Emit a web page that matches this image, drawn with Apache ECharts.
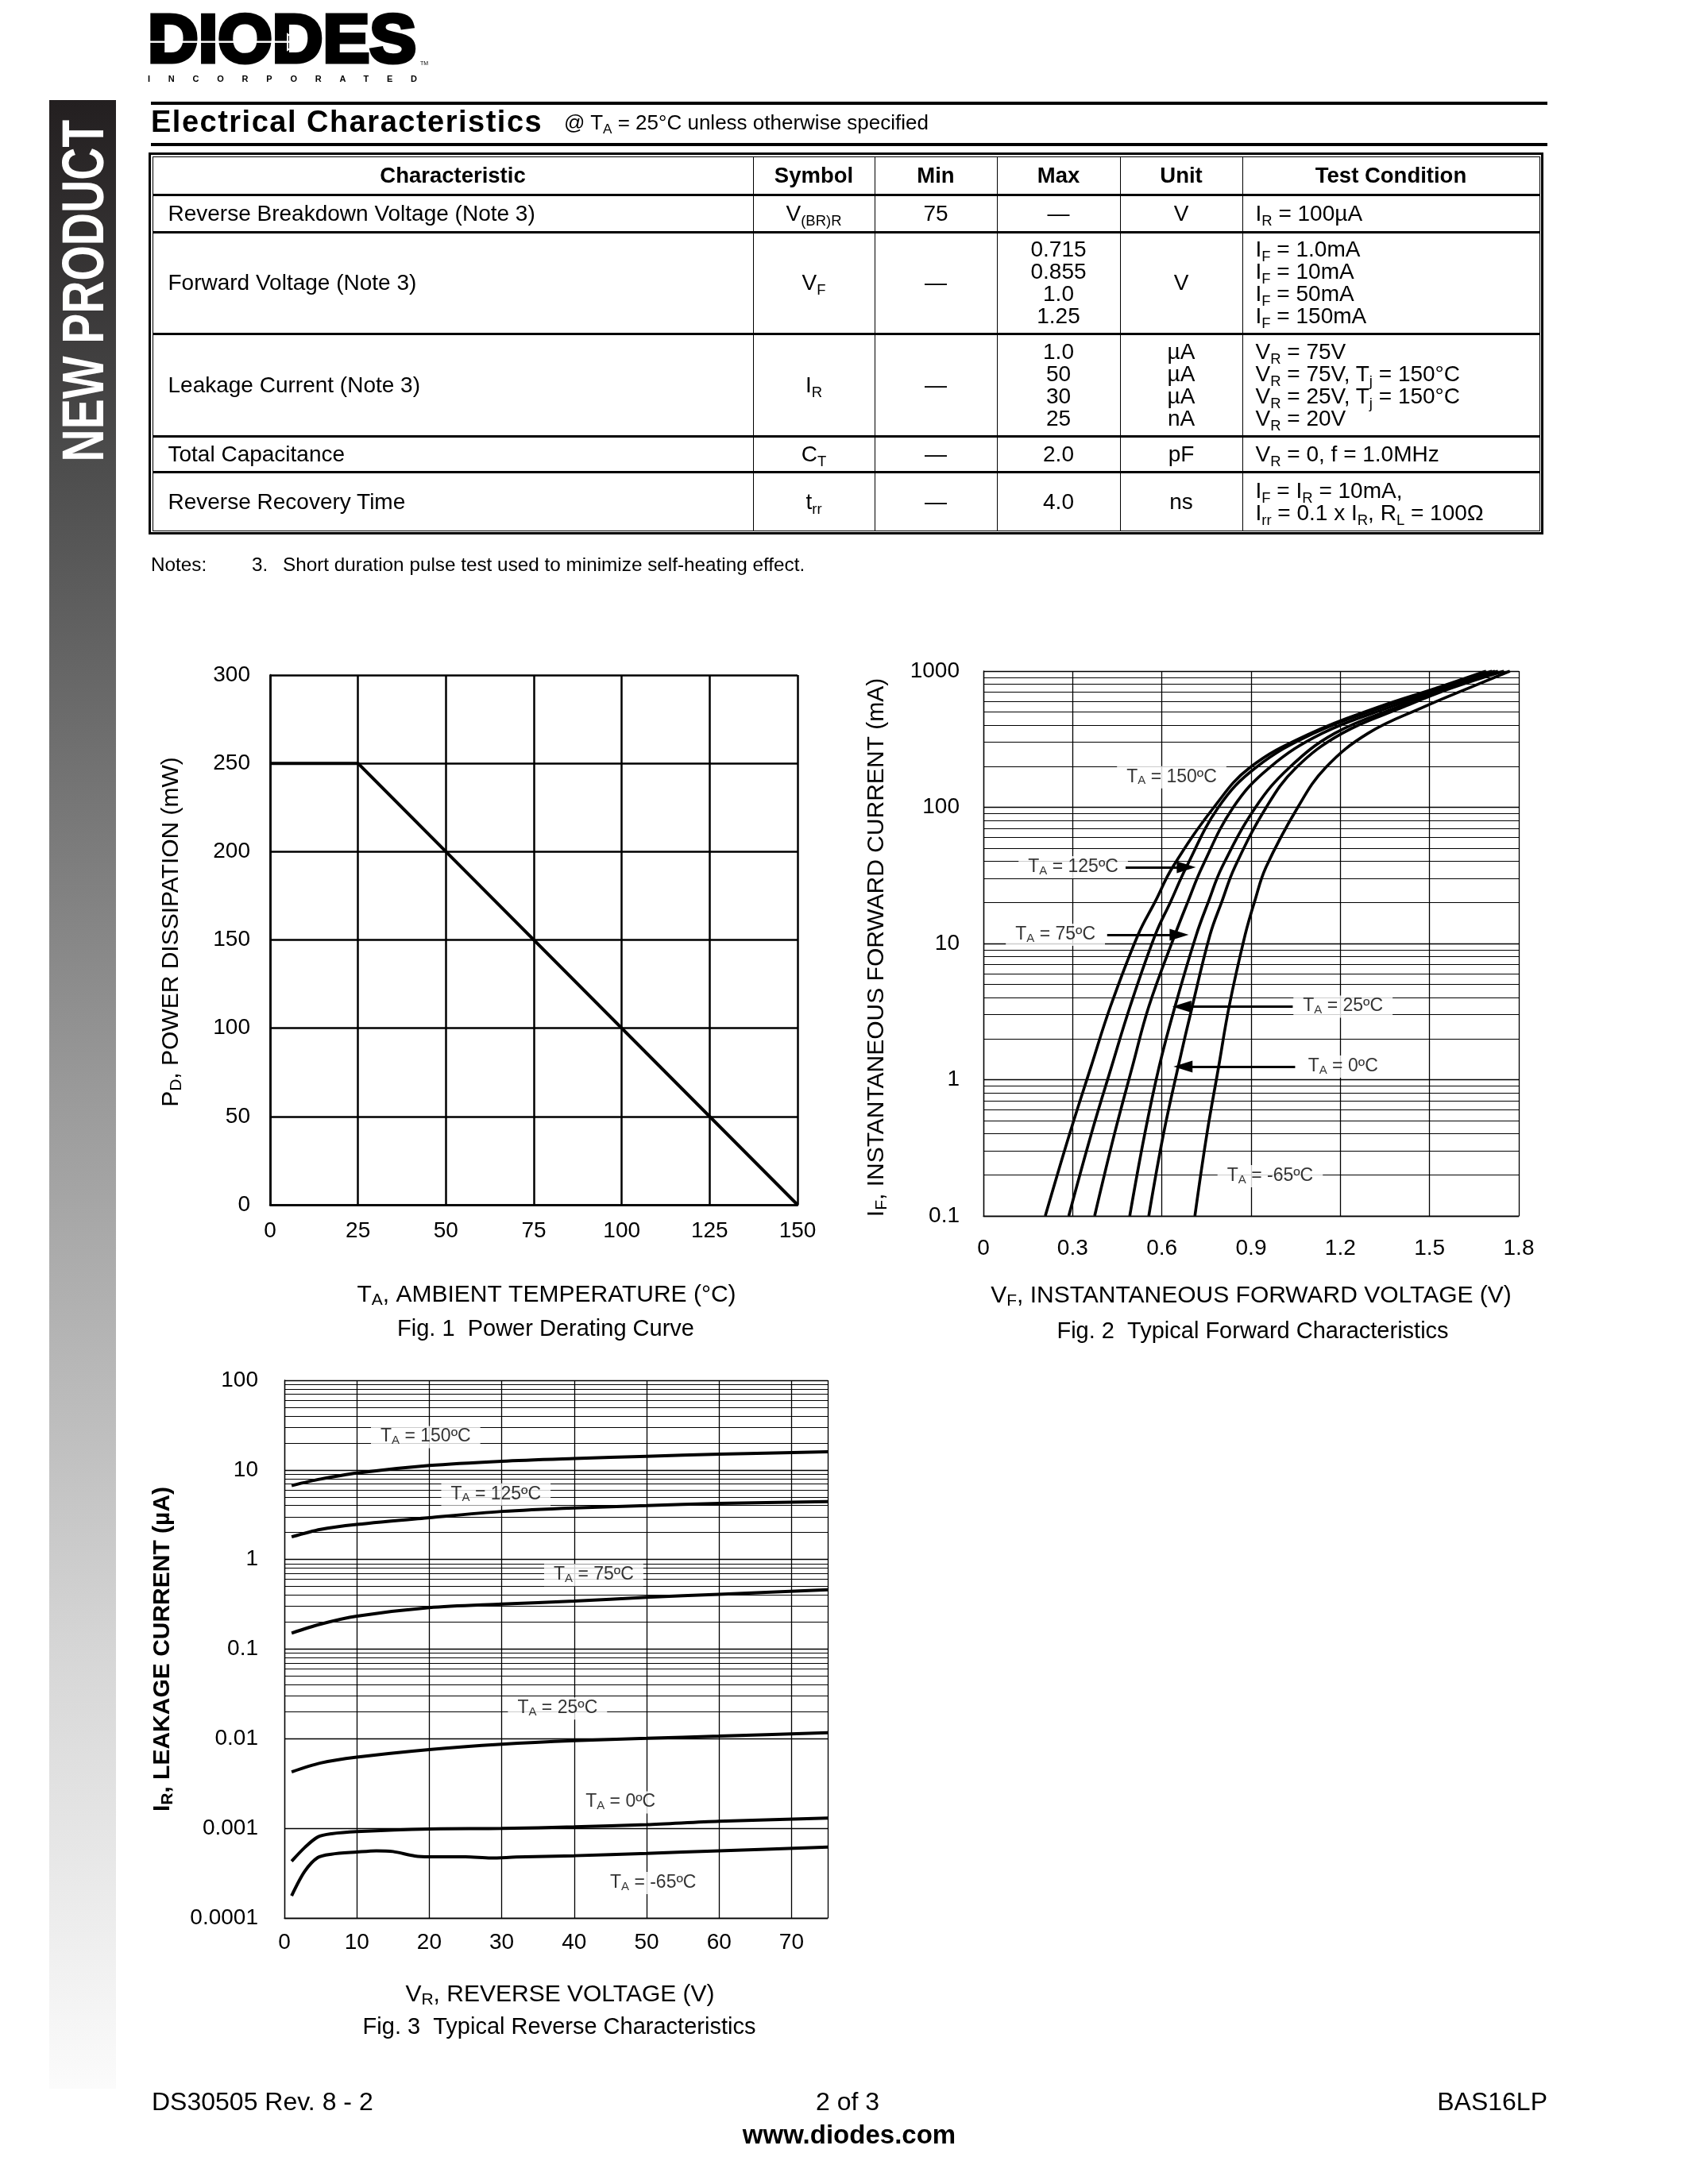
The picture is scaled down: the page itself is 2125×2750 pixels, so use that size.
<!DOCTYPE html>
<html>
<head>
<meta charset="utf-8">
<script src="https://cdn.jsdelivr.net/npm/echarts@6/dist/echarts.min.js"></script>
<style>
html,body{margin:0;padding:0;background:#fff;}
body{width:2125px;height:2750px;position:relative;overflow:hidden;font-family:"Liberation Sans",Arial,Helvetica,sans-serif;color:#000;}
#chart{position:absolute;left:0;top:0;width:2125px;height:2750px;z-index:1;}
.abs{position:absolute;z-index:2;white-space:nowrap;}
sub{font-size:0.66em;vertical-align:-0.3em;line-height:0;}
#side{position:absolute;left:62px;top:126px;width:84px;height:2504px;z-index:2;
  background:linear-gradient(to bottom,#231f20 0%,#4c4c4c 18%,#9a9a9a 50%,#d6d6d6 78%,#fbfbfb 100%);}
#sideTxt{position:absolute;z-index:3;left:-111px;top:339px;width:429px;height:56px;line-height:56px;
  text-align:center;color:#fff;font-weight:bold;font-size:57px;white-space:nowrap;
  transform:rotate(-90deg) scale(1,1.3);transform-origin:50% 50%;}
.rule{position:absolute;left:190px;width:1758px;height:4px;background:#000;z-index:2;}
#title{left:190px;top:134px;font-size:38px;line-height:38px;font-weight:bold;letter-spacing:1.5px;}
#subtitle{left:710px;top:141px;font-size:26px;line-height:26px;}
#tbl{position:absolute;left:187px;top:192px;border:3px solid #000;padding:1.5px;z-index:2;}
#tbl table{border-collapse:collapse;table-layout:fixed;width:1746px;font-size:28px;border:1.5px solid #000;}
#tbl th,#tbl td{border-left:1.5px solid #000;border-right:1.5px solid #000;border-top:3px solid #000;border-bottom:3px solid #000;
  padding:0;text-align:center;vertical-align:middle;line-height:28px;white-space:nowrap;}
#tbl th{font-weight:bold;font-size:27.5px;border-top:1.5px solid #000;}
#tbl tr.last td{border-bottom:1.5px solid #000;}
#tbl td.l{text-align:left;padding-left:19px;}
#tbl td.r{text-align:left;padding-left:16px;}
.note{font-size:24.3px;line-height:24px;top:699px;}
.foot{font-size:32px;line-height:32px;}
</style>
</head>
<body>
<div id="chart"></div>

<svg class="abs" style="left:0;top:0" width="600" height="120" viewBox="0 0 600 120">
  <text x="186" y="78" font-family="Liberation Sans, Arial, sans-serif" font-weight="bold" font-size="85"
        textLength="338" lengthAdjust="spacingAndGlyphs" fill="#000" stroke="#000" stroke-width="5">DIODES</text>
  <rect x="186" y="51.5" width="178" height="2.4" fill="#fff"/>
  <polygon points="362,43 362,63 377,53" fill="none" stroke="#fff" stroke-width="2"/>
  <text x="529" y="82" font-family="Liberation Sans, Arial, sans-serif" font-size="7" fill="#000">TM</text>
  <text x="186" y="103" font-family="Liberation Sans, Arial, sans-serif" font-weight="bold" font-size="11"
        textLength="339" lengthAdjust="spacing" fill="#000">INCORPORATED</text>
</svg>

<div id="side"></div>
<div id="sideTxt">NEW PRODUCT</div>

<div class="rule" style="top:128px"></div>
<div class="abs" id="title">Electrical Characteristics</div>
<div class="abs" id="subtitle">@ T<sub>A</sub> = 25°C unless otherwise specified</div>
<div class="rule" style="top:180px"></div>

<div id="tbl">
<table>
<colgroup><col style="width:756px"><col style="width:153px"><col style="width:154px"><col style="width:155px"><col style="width:154px"><col style="width:374px"></colgroup>
<tr style="height:48px"><th>Characteristic</th><th>Symbol</th><th>Min</th><th>Max</th><th>Unit</th><th>Test Condition</th></tr>
<tr style="height:47px"><td class="l">Reverse Breakdown Voltage (Note 3)</td><td>V<sub>(BR)R</sub></td><td>75</td><td>—</td><td>V</td><td class="r">I<sub>R</sub> = 100µA</td></tr>
<tr style="height:128px"><td class="l">Forward Voltage (Note 3)</td><td>V<sub>F</sub></td><td>—</td><td>0.715<br>0.855<br>1.0<br>1.25</td><td>V</td><td class="r">I<sub>F</sub> = 1.0mA<br>I<sub>F</sub> = 10mA<br>I<sub>F</sub> = 50mA<br>I<sub>F</sub> = 150mA</td></tr>
<tr style="height:129px"><td class="l">Leakage Current (Note 3)</td><td>I<sub>R</sub></td><td>—</td><td>1.0<br>50<br>30<br>25</td><td>µA<br>µA<br>µA<br>nA</td><td class="r">V<sub>R</sub> = 75V<br>V<sub>R</sub> = 75V, T<sub>j</sub> = 150°C<br>V<sub>R</sub> = 25V, T<sub>j</sub> = 150°C<br>V<sub>R</sub> = 20V</td></tr>
<tr style="height:45px"><td class="l">Total Capacitance</td><td>C<sub>T</sub></td><td>—</td><td>2.0</td><td>pF</td><td class="r">V<sub>R</sub> = 0, f = 1.0MHz</td></tr>
<tr class="last" style="height:74px"><td class="l">Reverse Recovery Time</td><td>t<sub>rr</sub></td><td>—</td><td>4.0</td><td>ns</td><td class="r">I<sub>F</sub> = I<sub>R</sub> = 10mA,<br>I<sub>rr</sub> = 0.1 x I<sub>R</sub>, R<sub>L</sub> = 100Ω</td></tr>
</table>
</div>

<div class="abs note" style="left:190px">Notes:</div>
<div class="abs note" style="left:317px">3.</div>
<div class="abs note" style="left:356px">Short duration pulse test used to minimize self-heating effect.</div>

<div class="abs foot" style="left:191px;top:2630px">DS30505 Rev. 8 - 2</div>
<div class="abs foot" style="left:967px;top:2630px;width:200px;text-align:center">2 of 3</div>
<div class="abs foot" style="right:177px;top:2630px">BAS16LP</div>
<div class="abs foot" style="left:869px;top:2672px;width:400px;text-align:center;font-weight:bold;font-size:33px">www.diodes.com</div>

<script>
const FONT = '"Liberation Sans", Arial, Helvetica, sans-serif';

// ---------- Fig. 1 Power Derating Curve ----------
const fig1XTicks = [0, 25, 50, 75, 100, 125, 150];
const fig1YTicks = [0, 50, 100, 150, 200, 250, 300];
const fig1Temp = [0, 25, 150];
const fig1Power = [250, 250, 0];

// ---------- Fig. 2 Typical Forward Characteristics ----------
const fig2XTicks = [0, 0.3, 0.6, 0.9, 1.2, 1.5, 1.8];
const fig2YTicks = [0.1, 1, 10, 100, 1000];
const fig2Temps = ['150', '125', '75', '25', '0', '-65'];
const fwdIF = [0.1, 0.395, 1.25, 3.44, 11.6, 20.4, 36.3, 100, 195, 349, 547, 748, 1000];
const fwdVF150 = [0.208, 0.289, 0.362, 0.427, 0.520, 0.578, 0.636, 0.775, 0.895, 1.100, 1.330, 1.520, 1.69];
const fwdVF125 = [0.287, 0.362, 0.431, 0.493, 0.578, 0.630, 0.682, 0.790, 0.915, 1.110, 1.345, 1.535, 1.71];
const fwdVF75  = [0.374, 0.440, 0.501, 0.556, 0.644, 0.688, 0.735, 0.840, 0.961, 1.139, 1.371, 1.552, 1.72];
const fwdVF25  = [0.492, 0.542, 0.591, 0.644, 0.716, 0.757, 0.802, 0.915, 1.028, 1.181, 1.395, 1.562, 1.73];
const fwdVF0   = [0.556, 0.605, 0.655, 0.702, 0.762, 0.802, 0.845, 0.951, 1.051, 1.206, 1.414, 1.572, 1.75];
const fwdVFm65 = [0.711, 0.751, 0.791, 0.826, 0.880, 0.912, 0.950, 1.057, 1.150, 1.293, 1.482, 1.630, 1.77];
const fig2LabelV = [0.633, 0.302, 0.242, 1.209, 1.209, 0.964];
const fig2LabelI = [166, 36.3, 11.6, 3.44, 1.25, 0.196];
const fig2ArrowTemps = ['125', '75', '25', '0'];
const fig2ArrowFromV = [0.478, 0.416, 1.040, 1.048];
const fig2ArrowToV   = [0.682, 0.658, 0.667, 0.671];
const fig2ArrowI     = [36.3, 11.6, 3.44, 1.25];

// ---------- Fig. 3 Typical Reverse Characteristics ----------
const fig3XTicks = [0, 10, 20, 30, 40, 50, 60, 70];
const fig3XMax = 75;
const fig3YTicks = [0.0001, 0.001, 0.01, 0.1, 1, 10, 100];
const fig3Temps = ['150', '125', '75', '25', '0', '-65'];
const revV = [1, 5, 10, 20, 30, 40, 50, 60, 75];
const revI150 = [6.7, 7.9, 9.25, 11.2, 12.5, 13.4, 14.2, 15.0, 15.9];
const revI125 = [1.79, 2.17, 2.46, 2.93, 3.44, 3.77, 3.99, 4.23, 4.43];
const revI75  = [0.151, 0.19, 0.233, 0.29, 0.318, 0.344, 0.378, 0.409, 0.459];
const revI25  = [0.00426, 0.00536, 0.00622, 0.00757, 0.00869, 0.00953, 0.0101, 0.0107, 0.0117];
const revV0   = [1, 2.8, 4.6, 6.5, 10, 20, 30, 40, 50, 60, 75];
const revI0   = [0.000429, 0.00061, 0.0008, 0.00087, 0.00092, 0.000984, 0.000996, 0.00104, 0.0011, 0.0012, 0.0013];
const revVm65 = [1, 2.8, 4.6, 6.5, 10, 12.7, 15, 18, 20, 25, 28.5, 32, 40, 50, 60, 75];
const revIm65 = [0.000177, 0.000331, 0.000472, 0.000515, 0.000544, 0.000562, 0.000551, 0.000492, 0.000482, 0.000482, 0.000466, 0.000478, 0.000495, 0.000525, 0.000562, 0.000617];
const fig3LabelV = [19.5, 29.2, 42.7, 37.7, 46.4, 50.9];
const fig3LabelI = [23.2, 5.32, 0.671, 0.0218, 0.00195, 0.000246];

// ---------- helpers ----------
const zip = (xs, ys) => xs.map((x, i) => [x, ys[i]]);
const fmtNum = v => String(+(+v).toPrecision(6));
function minorLogLines(ticks) {
  const out = [];
  for (let i = 0; i < ticks.length - 1; i++) {
    for (let k = 2; k <= 9; k++) out.push({ yAxis: +(ticks[i] * k).toPrecision(6) });
  }
  return out;
}
const nameRich = {
  m:  { fontSize: 30, fontFamily: FONT, color: '#000', lineHeight: 32, verticalAlign: 'top' },
  s:  { fontSize: 21, fontFamily: FONT, color: '#000', lineHeight: 21, verticalAlign: 'bottom', padding: [16, 0, 0, 0] },
  b:  { fontSize: 30, fontFamily: FONT, color: '#000', lineHeight: 32, verticalAlign: 'top', fontWeight: 'bold' },
  bs: { fontSize: 21, fontFamily: FONT, color: '#000', lineHeight: 21, verticalAlign: 'bottom', padding: [16, 0, 0, 0], fontWeight: 'bold' }
};
const labelRich = {
  m: { fontSize: 23, fontFamily: FONT, color: '#000', lineHeight: 24, verticalAlign: 'top' },
  s: { fontSize: 15, fontFamily: FONT, color: '#000', lineHeight: 15, verticalAlign: 'bottom', padding: [14, 0, 0, 0] }
};
const taText = t => '{m|T}{s|A}{m| = ' + t + 'ºC}';

function axis(opt) {
  const w = opt.gridW || 1.3;
  return {
    type: opt.type || 'value',
    gridIndex: opt.gridIndex,
    min: opt.min, max: opt.max,
    interval: opt.interval,
    logBase: opt.type === 'log' ? 10 : undefined,
    name: opt.name,
    nameLocation: 'middle',
    nameGap: opt.nameGap,
    nameTextStyle: { rich: nameRich, padding: opt.namePad || 0 },
    axisLine: { show: true, onZero: false, lineStyle: { color: '#000', width: w } },
    axisTick: { show: false },
    axisLabel: { show: true, color: '#000', fontSize: 28, fontFamily: FONT, margin: opt.margin, formatter: opt.formatter },
    splitLine: { show: true, lineStyle: { color: '#000', width: w, type: 'solid' } },
    minorTick: { show: false },
    minorSplitLine: { show: false }
  };
}

const chart = echarts.init(document.getElementById('chart'), null, { renderer: 'canvas', width: 2125, height: 2750 });

const curveStyle = (w) => ({ color: '#000', width: w, type: 'solid' });

const series = [];
// Fig 1
series.push({
  type: 'line', xAxisIndex: 0, yAxisIndex: 0, data: zip(fig1Temp, fig1Power),
  symbol: 'none', lineStyle: curveStyle(4), z: 4, silent: true
});
// Fig 2 minor grid
series.push({
  type: 'line', xAxisIndex: 1, yAxisIndex: 1, data: [[0.9, 1]], symbol: 'none', lineStyle: { opacity: 0 }, z: 1, silent: true,
  markLine: { z: 1, silent: true, symbol: ['none', 'none'], label: { show: false }, animation: false,
    lineStyle: { color: '#000', width: 1.2, type: 'solid' }, data: minorLogLines(fig2YTicks) }
});
// Fig 2 labels
series.push({
  type: 'scatter', xAxisIndex: 1, yAxisIndex: 1, z: 3, silent: true, symbolSize: 1,
  itemStyle: { color: 'rgba(0,0,0,0)' },
  data: fig2Temps.map((t, i) => ({ name: t, value: [fig2LabelV[i], fig2LabelI[i]] })),
  label: { show: true, position: 'inside', formatter: p => taText(p.name), rich: labelRich,
    backgroundColor: '#fff', padding: [2, 12, 2, 12] }
});
// Fig 2 curves
const fwdSets = [fwdVF150, fwdVF125, fwdVF75, fwdVF25, fwdVF0, fwdVFm65];
fwdSets.forEach((vf, i) => series.push({
  type: 'line', name: 'TA=' + fig2Temps[i], xAxisIndex: 1, yAxisIndex: 1, data: zip(vf, fwdIF),
  symbol: 'none', smooth: 0.4, lineStyle: curveStyle(3.6), z: 4, silent: true
}));
// Fig 2 arrows
series.push({
  type: 'line', xAxisIndex: 1, yAxisIndex: 1, data: [[0.9, 1]], symbol: 'none', lineStyle: { opacity: 0 }, z: 5, silent: true,
  markLine: { z: 6, silent: true, animation: false, symbol: ['none', 'path://M10,0 L20,30 L0,30 Z'], symbolSize: [0, 22],
    label: { show: false }, lineStyle: { color: '#000', width: 3, type: 'solid' },
    data: fig2ArrowTemps.map((t, i) => [
      { coord: [fig2ArrowFromV[i], fig2ArrowI[i]] },
      { coord: [fig2ArrowToV[i], fig2ArrowI[i]], symbolSize: [15, 24] }
    ]) }
});
// Fig 3 minor grid
series.push({
  type: 'line', xAxisIndex: 2, yAxisIndex: 2, data: [[10, 1]], symbol: 'none', lineStyle: { opacity: 0 }, z: 1, silent: true,
  markLine: { z: 1, silent: true, symbol: ['none', 'none'], label: { show: false }, animation: false,
    lineStyle: { color: '#000', width: 1.2, type: 'solid' }, data: minorLogLines(fig3YTicks) }
});
// Fig 3 labels
series.push({
  type: 'scatter', xAxisIndex: 2, yAxisIndex: 2, z: 3, silent: true, symbolSize: 1,
  itemStyle: { color: 'rgba(0,0,0,0)' },
  data: fig3Temps.map((t, i) => ({ name: t, value: [fig3LabelV[i], fig3LabelI[i]] })),
  label: { show: true, position: 'inside', formatter: p => taText(p.name), rich: labelRich,
    backgroundColor: '#fff', padding: [2, 12, 2, 12] }
});
// Fig 3 curves
const revSets = [[revV, revI150], [revV, revI125], [revV, revI75], [revV, revI25], [revV0, revI0], [revVm65, revIm65]];
revSets.forEach((s, i) => series.push({
  type: 'line', name: 'TA=' + fig3Temps[i], xAxisIndex: 2, yAxisIndex: 2, data: zip(s[0], s[1]),
  symbol: 'none', smooth: 0.3, lineStyle: curveStyle(4), z: 4, silent: true
}));

const option = {
  animation: false,
  backgroundColor: 'transparent',
  color: ['#000'],
  textStyle: { fontFamily: FONT, color: '#000' },
  grid: [
    { left: 340, top: 850, width: 664, height: 667, containLabel: false, outerBoundsMode: 'none' },
    { left: 1238, top: 845, width: 674, height: 686, containLabel: false, outerBoundsMode: 'none' },
    { left: 358, top: 1738, width: 684, height: 677, containLabel: false, outerBoundsMode: 'none' }
  ],
  xAxis: [
    axis({ gridIndex: 0, min: fig1XTicks[0], max: fig1XTicks[fig1XTicks.length - 1], interval: fig1XTicks[1] - fig1XTicks[0],
      gridW: 2.5, margin: 19, name: '{m|T}{s|A}{m|, AMBIENT TEMPERATURE (°C)}', nameGap: 99, namePad: [0, 0, 0, 32],
      formatter: v => fmtNum(v) }),
    axis({ gridIndex: 1, min: fig2XTicks[0], max: fig2XTicks[fig2XTicks.length - 1], interval: 0.3,
      margin: 27, name: '{m|V}{s|F}{m|, INSTANTANEOUS FORWARD VOLTAGE (V)}', nameGap: 86,
      formatter: v => (Math.abs(v) < 1e-9 ? '0' : (+v).toFixed(1)) }),
    axis({ gridIndex: 2, min: fig3XTicks[0], max: fig3XMax, interval: fig3XTicks[1] - fig3XTicks[0],
      margin: 17, name: '{m|V}{s|R}{m|, REVERSE VOLTAGE (V)}', nameGap: 82, namePad: [0, 0, 0, 10],
      formatter: v => (v > fig3XTicks[fig3XTicks.length - 1] ? '' : fmtNum(v)) })
  ],
  yAxis: [
    axis({ gridIndex: 0, min: fig1YTicks[0], max: fig1YTicks[fig1YTicks.length - 1], interval: fig1YTicks[1] - fig1YTicks[0],
      gridW: 2.5, margin: 25, name: '{m|P}{s|D}{m|, POWER DISSIPATION (mW)}', nameGap: 107, namePad: [0, 0, 0, 20],
      formatter: v => fmtNum(v) }),
    axis({ type: 'log', gridIndex: 1, min: fig2YTicks[0], max: fig2YTicks[fig2YTicks.length - 1],
      margin: 30, name: '{m|I}{s|F}{m|, INSTANTANEOUS FORWARD CURRENT (mA)}', nameGap: 117, namePad: [0, 10, 0, 0],
      formatter: v => fmtNum(v) }),
    axis({ type: 'log', gridIndex: 2, min: fig3YTicks[0], max: fig3YTicks[fig3YTicks.length - 1],
      margin: 33, name: '{b|I}{bs|R}{b|, LEAKAGE CURRENT (µA)}', nameGap: 136,
      formatter: v => fmtNum(v) })
  ],
  graphic: [
    { type: 'text', x: 687, y: 1674, z: 10, style: { text: 'Fig. 1  Power Derating Curve', font: '29px ' + FONT, fill: '#000', align: 'center', verticalAlign: 'middle', textAlign: 'center', textVerticalAlign: 'middle' } },
    { type: 'text', x: 1577, y: 1677, z: 10, style: { text: 'Fig. 2  Typical Forward Characteristics', font: '29px ' + FONT, fill: '#000', align: 'center', verticalAlign: 'middle', textAlign: 'center', textVerticalAlign: 'middle' } },
    { type: 'text', x: 704, y: 2553, z: 10, style: { text: 'Fig. 3  Typical Reverse Characteristics', font: '29px ' + FONT, fill: '#000', align: 'center', verticalAlign: 'middle', textAlign: 'center', textVerticalAlign: 'middle' } }
  ],
  series: series
};
chart.setOption(option);
</script>
</body>
</html>
